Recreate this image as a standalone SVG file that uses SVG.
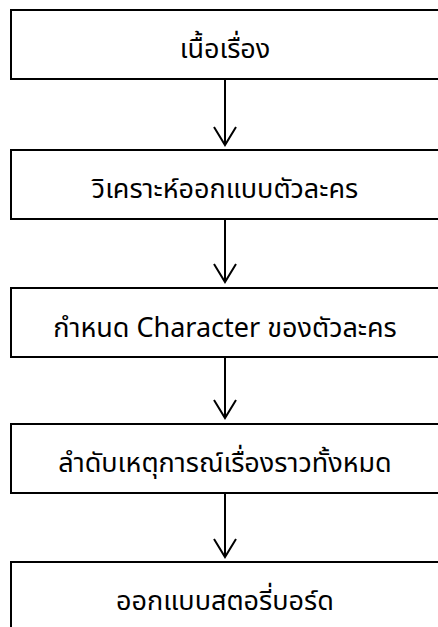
<svg xmlns="http://www.w3.org/2000/svg" width="438" height="627" viewBox="0 0 438 627">
<style>
.box{fill:#fff;stroke:#000;stroke-width:2}
.t{font-family:"Noto Sans","Noto Sans Thai","Leelawadee UI",Tahoma,sans-serif;font-size:27px;fill:#000;text-anchor:middle}
.c{stroke:#000;stroke-width:2;fill:none}
</style>
<rect width="438" height="627" fill="#fff"/>
<g id="n1"><rect class="box" x="11" y="10" width="440" height="69"/><text class="t" x="225" y="58">เนื้อเรื่อง</text></g>
<g id="n2"><rect class="box" x="11" y="150" width="440" height="69"/><text class="t" x="225" y="198">วิเคราะห์ออกแบบตัวละคร</text></g>
<g id="n3"><rect class="box" x="11" y="288" width="440" height="69"/><text class="t" x="225" y="337">กำหนด Character ของตัวละคร</text></g>
<g id="n4"><rect class="box" x="11" y="424" width="440" height="69"/><text class="t" x="225" y="472">ลำดับเหตุการณ์เรื่องราวทั้งหมด</text></g>
<g id="n5"><rect class="box" x="11" y="562" width="440" height="80"/><text class="t" x="225" y="610">ออกแบบสตอรี่บอร์ด</text></g>
<g id="connectors">
<path class="c" d="M225 79V145M214 127L225 145L236 127"/>
<path class="c" d="M225 219V282M214 264L225 282L236 264"/>
<path class="c" d="M225 357V418M214 400L225 418L236 400"/>
<path class="c" d="M225 493V557M214 539L225 557L236 539"/>
</g>
</svg>
